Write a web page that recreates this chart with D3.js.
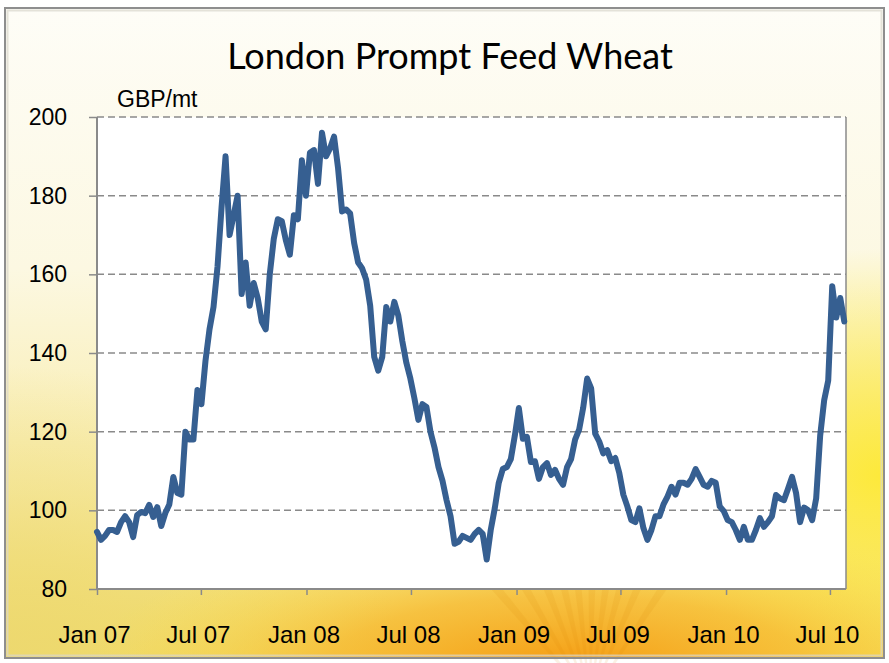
<!DOCTYPE html>
<html>
<head>
<meta charset="utf-8">
<script src="https://cdn.jsdelivr.net/npm/d3@7.9.0/dist/d3.min.js"></script>
<style>
  html, body { margin: 0; padding: 0; background: #fff; }
  svg { display: block; }
  .tick text { font-family: "Liberation Sans", Arial, sans-serif; fill: #000; }
</style>
</head>
<body>
<svg id="chart" width="889" height="663"></svg>
<script>
// weekly London prompt feed wheat price, GBP/mt, from first week of Jan 2007
const startDate = new Date(2007, 0, 1);
const prices = [
  94.5, 92.5, 93.5, 95, 95, 94.5, 97, 98.5, 97, 93.2,
  98.8, 99.6, 99.3, 101.4, 98.3, 100.8, 96, 99.3, 101.5, 108.5,
  104.4, 104, 120, 118, 118, 130.6, 127, 138, 146, 151.7,
  162, 177, 190, 170, 175, 180, 155, 163, 152, 157.8,
  154, 148, 146, 160, 169, 174, 173.5, 168.7, 165, 175,
  174, 189, 180, 190.9, 191.6, 183, 196, 190, 192, 195,
  187, 176, 176.5, 175.5, 168, 163, 161.5, 158.6, 152, 139,
  135.5, 139, 151.7, 148, 153, 149.5, 143, 137.5, 133.5, 128.5,
  123, 127, 126.3, 120, 116, 111, 107.5, 102.6, 98.5, 91.5,
  92, 93.5, 93, 92.5, 94, 95, 94, 87.5, 95, 100.5,
  107, 110.5, 111, 113, 119, 126, 118.2, 118.7, 112.3, 112.5,
  108, 111, 112, 109, 110.3, 108, 106.5, 111, 113, 118,
  120.5, 126, 133.5, 131, 119.5, 117.5, 114.5, 115.3, 112.5, 113.3,
  109.5, 104, 101, 97.5, 97, 100.5, 95.5, 92.5, 95, 98.5,
  98.5, 101.5, 103.5, 106, 104, 107, 107, 106.5, 108, 110.5,
  108.5, 106.5, 106, 107.5, 107, 101, 99.8, 97.5, 97, 95,
  92.5, 95.8, 92.5, 92.5, 95, 98, 95.8, 97, 98.5, 103.9,
  103, 102.6, 105.5, 108.5, 104.4, 97, 100.7, 100, 97.5, 103,
  119, 128, 133, 157, 149, 154, 148
];
const dates = prices.map((_, i) => d3.timeDay.offset(startDate, i * 7));
const data = prices.map((v, i) => ({ date: dates[i], value: v }));

const yTicks = [80, 100, 120, 140, 160, 180, 200];
const xTicks = [
  new Date(2007, 0, 1), new Date(2007, 6, 1), new Date(2008, 0, 1), new Date(2008, 6, 1),
  new Date(2009, 0, 1), new Date(2009, 6, 1), new Date(2010, 0, 1), new Date(2010, 6, 1)
];
const xDomainEnd = new Date(2010, 6, 29);

const W = 889, H = 663;
const margin = { top: 117, right: 43, bottom: 74, left: 97 };
const innerW = W - margin.left - margin.right;
const innerH = H - margin.top - margin.bottom;

const svg = d3.select('#chart');
const defs = svg.append('defs');

// slide background: pale at top, yellow / orange sun at the bottom
const bg = defs.append('linearGradient').attr('id', 'bg').attr('x1', 0).attr('y1', 0).attr('x2', 0).attr('y2', 1);
bg.append('stop').attr('offset', '0%').attr('stop-color', '#fefdf7');
bg.append('stop').attr('offset', '40%').attr('stop-color', '#fcf8e2');
bg.append('stop').attr('offset', '75%').attr('stop-color', '#f8eba6');
bg.append('stop').attr('offset', '100%').attr('stop-color', '#f3db62');

const sun = defs.append('radialGradient').attr('id', 'sun')
  .attr('cx', 0.64).attr('cy', 1.02).attr('r', 0.55)
  .attr('gradientTransform', 'translate(0.64 1.02) scale(1 0.42) translate(-0.64 -1.02)');
sun.append('stop').attr('offset', '0%').attr('stop-color', '#f5960c').attr('stop-opacity', 0.95);
sun.append('stop').attr('offset', '50%').attr('stop-color', '#f7b52a').attr('stop-opacity', 0.7);
sun.append('stop').attr('offset', '100%').attr('stop-color', '#fbe04a').attr('stop-opacity', 0);

const rightGlow = defs.append('radialGradient').attr('id', 'rightGlow')
  .attr('cx', 1).attr('cy', 0.72).attr('r', 0.35);
rightGlow.append('stop').attr('offset', '0%').attr('stop-color', '#fde93a').attr('stop-opacity', 1);
rightGlow.append('stop').attr('offset', '100%').attr('stop-color', '#fde93a').attr('stop-opacity', 0);

const leftGlow = defs.append('radialGradient').attr('id', 'leftGlow')
  .attr('cx', 0).attr('cy', 1).attr('r', 0.45);
leftGlow.append('stop').attr('offset', '0%').attr('stop-color', '#ecd870').attr('stop-opacity', 0.9);
leftGlow.append('stop').attr('offset', '100%').attr('stop-color', '#ecd870').attr('stop-opacity', 0);

svg.append('rect').attr('width', W).attr('height', H).attr('fill', '#ffffff');
['bg', 'leftGlow', 'rightGlow', 'sun'].forEach(id => {
  svg.append('rect').attr('x', 5).attr('y', 8).attr('width', 879).attr('height', 650).attr('fill', `url(#${id})`);
});

// faint sun rays
const rays = svg.append('g').attr('opacity', 0.1);
[-40, -30, -21, -13, -6, 1, 8, 15, 23, 33].forEach(a => {
  const r = a * Math.PI / 180;
  rays.append('path')
    .attr('d', `M590,700 L${590 + Math.sin(r - 0.03) * 250},${700 - Math.cos(r - 0.03) * 250} L${590 + Math.sin(r + 0.03) * 250},${700 - Math.cos(r + 0.03) * 250} Z`)
    .attr('fill', '#d98000');
});

// frame
svg.append('rect').attr('x', 5).attr('y', 8).attr('width', 879).attr('height', 650)
  .attr('fill', 'none').attr('stroke', '#8e8e8e').attr('stroke-width', 2);
svg.append('rect').attr('x', 7.5).attr('y', 10.5).attr('width', 874).attr('height', 645)
  .attr('fill', 'none').attr('stroke', '#d8d6cc').attr('stroke-width', 2).attr('opacity', 0.7);

const x = d3.scaleTime().domain([startDate, xDomainEnd]).range([0, innerW]);
const y = d3.scaleLinear().domain([80, 200]).range([innerH, 0]);

const g = svg.append('g').attr('transform', `translate(${margin.left},${margin.top})`);

g.append('rect').attr('width', innerW).attr('height', innerH).attr('fill', '#fff');

// dashed gridlines
g.append('g').selectAll('line')
  .data(yTicks.filter(t => t > 80))
  .join('line')
  .attr('x1', 0).attr('x2', innerW)
  .attr('y1', d => y(d)).attr('y2', d => y(d))
  .attr('stroke', '#8a8a8a').attr('stroke-width', 1.5).attr('stroke-dasharray', '7,4');

// right border
g.append('line').attr('x1', innerW).attr('x2', innerW).attr('y1', 0).attr('y2', innerH)
  .attr('stroke', '#8a8a8a').attr('stroke-width', 1.5);

const yAxis = g.append('g')
  .call(d3.axisLeft(y).tickValues(yTicks).tickSize(8).tickPadding(22));
yAxis.select('.domain').attr('stroke', '#8a8a8a').attr('stroke-width', 2).attr('d', `M0,0V${innerH}`);
yAxis.selectAll('.tick line').attr('stroke', '#8a8a8a').attr('stroke-width', 1.5);
yAxis.selectAll('.tick text').attr('font-size', 23);

const xAxis = g.append('g').attr('transform', `translate(0,${innerH})`)
  .call(d3.axisBottom(x).tickValues(xTicks).tickFormat(d3.timeFormat('%b %y')).tickSize(6).tickPadding(31));
xAxis.select('.domain').attr('stroke', '#8a8a8a').attr('stroke-width', 2).attr('d', `M0,0H${innerW}`);
xAxis.selectAll('.tick line').attr('stroke', '#8a8a8a').attr('stroke-width', 1.5);
xAxis.selectAll('.tick text').attr('font-size', 24).attr('dx', -3);

const line = d3.line().x(d => x(d.date)).y(d => y(d.value));
g.append('path').datum(data)
  .attr('d', line)
  .attr('fill', 'none')
  .attr('stroke', '#365f91')
  .attr('stroke-width', 6)
  .attr('stroke-linejoin', 'round')
  .attr('stroke-linecap', 'round');

svg.append('text')
  .attr('x', 450).attr('y', 69)
  .attr('text-anchor', 'middle')
  .attr('font-family', 'Lato, "Open Sans", sans-serif')
  .attr('font-size', 36)
  .text('London Prompt Feed Wheat');

svg.append('text')
  .attr('x', 117).attr('y', 107)
  .attr('font-family', '"Liberation Sans", Arial, sans-serif')
  .attr('font-size', 23)
  .text('GBP/mt');
</script>
</body>
</html>
